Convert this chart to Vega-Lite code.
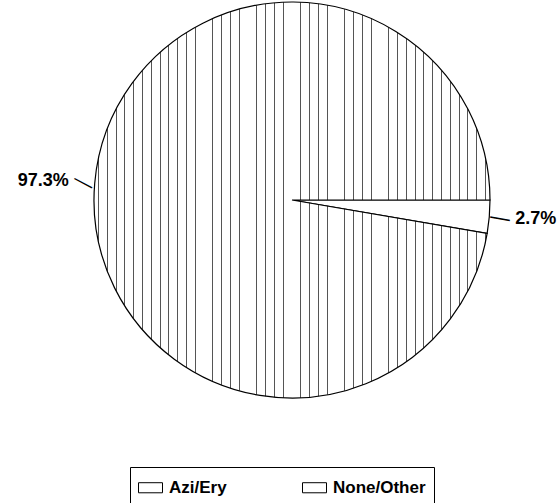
{
  "$schema": "https://vega.github.io/schema/vega-lite/v6.json",
  "width": 536,
  "height": 400,
  "padding": {"left": 24, "top": 0, "right": 0, "bottom": 103},
  "autosize": "none",
  "background": "white",
  "config": {"view": {"stroke": null}},
  "data": {
    "values": [
      {"group": "None/Other", "value": 2.7, "label": "2.7%", "order": 1},
      {"group": "Azi/Ery", "value": 97.3, "label": "97.3%", "order": 2}
    ]
  },
  "encoding": {
    "theta": {"field": "value", "type": "quantitative", "stack": true, "scale": {"range": [1.5708, 7.854]}},
    "order": {"field": "order", "type": "quantitative"}
  },
  "layer": [
    {
      "mark": {"type": "arc", "outerRadius": 198, "strokeWidth": 1.2},
      "encoding": {
        "fill": {
          "condition": {
            "test": "datum.group === 'Azi/Ery'",
            "value": {
              "gradient": "linear", "x1": 0, "y1": 0, "x2": 1, "y2": 0,
              "stops": [
                {"offset": 0, "color": "white"},
                {"offset": 0.00985, "color": "white"}, {"offset": 0.00985, "color": "#555"}, {"offset": 0.01237, "color": "#555"}, {"offset": 0.01237, "color": "white"},
                {"offset": 0.03207, "color": "white"}, {"offset": 0.03207, "color": "#555"}, {"offset": 0.03459, "color": "#555"}, {"offset": 0.03459, "color": "white"},
                {"offset": 0.05430, "color": "white"}, {"offset": 0.05430, "color": "#555"}, {"offset": 0.05682, "color": "#555"}, {"offset": 0.05682, "color": "white"},
                {"offset": 0.07652, "color": "white"}, {"offset": 0.07652, "color": "#555"}, {"offset": 0.07904, "color": "#555"}, {"offset": 0.07904, "color": "white"},
                {"offset": 0.09874, "color": "white"}, {"offset": 0.09874, "color": "#555"}, {"offset": 0.10126, "color": "#555"}, {"offset": 0.10126, "color": "white"},
                {"offset": 0.12096, "color": "white"}, {"offset": 0.12096, "color": "#555"}, {"offset": 0.12348, "color": "#555"}, {"offset": 0.12348, "color": "white"},
                {"offset": 0.14318, "color": "white"}, {"offset": 0.14318, "color": "#555"}, {"offset": 0.14570, "color": "#555"}, {"offset": 0.14570, "color": "white"},
                {"offset": 0.16541, "color": "white"}, {"offset": 0.16541, "color": "#555"}, {"offset": 0.16793, "color": "#555"}, {"offset": 0.16793, "color": "white"},
                {"offset": 0.18763, "color": "white"}, {"offset": 0.18763, "color": "#555"}, {"offset": 0.19015, "color": "#555"}, {"offset": 0.19015, "color": "white"},
                {"offset": 0.20985, "color": "white"}, {"offset": 0.20985, "color": "#555"}, {"offset": 0.21237, "color": "#555"}, {"offset": 0.21237, "color": "white"},
                {"offset": 0.23207, "color": "white"}, {"offset": 0.23207, "color": "#555"}, {"offset": 0.23459, "color": "#555"}, {"offset": 0.23459, "color": "white"},
                {"offset": 0.25430, "color": "white"}, {"offset": 0.25430, "color": "#555"}, {"offset": 0.25682, "color": "#555"}, {"offset": 0.25682, "color": "white"},
                {"offset": 0.27652, "color": "white"}, {"offset": 0.27652, "color": "#555"}, {"offset": 0.27904, "color": "#555"}, {"offset": 0.27904, "color": "white"},
                {"offset": 0.29874, "color": "white"}, {"offset": 0.29874, "color": "#555"}, {"offset": 0.30126, "color": "#555"}, {"offset": 0.30126, "color": "white"},
                {"offset": 0.32096, "color": "white"}, {"offset": 0.32096, "color": "#555"}, {"offset": 0.32348, "color": "#555"}, {"offset": 0.32348, "color": "white"},
                {"offset": 0.34318, "color": "white"}, {"offset": 0.34318, "color": "#555"}, {"offset": 0.34570, "color": "#555"}, {"offset": 0.34570, "color": "white"},
                {"offset": 0.36541, "color": "white"}, {"offset": 0.36541, "color": "#555"}, {"offset": 0.36793, "color": "#555"}, {"offset": 0.36793, "color": "white"},
                {"offset": 0.38763, "color": "white"}, {"offset": 0.38763, "color": "#555"}, {"offset": 0.39015, "color": "#555"}, {"offset": 0.39015, "color": "white"},
                {"offset": 0.40985, "color": "white"}, {"offset": 0.40985, "color": "#555"}, {"offset": 0.41237, "color": "#555"}, {"offset": 0.41237, "color": "white"},
                {"offset": 0.43207, "color": "white"}, {"offset": 0.43207, "color": "#555"}, {"offset": 0.43459, "color": "#555"}, {"offset": 0.43459, "color": "white"},
                {"offset": 0.45430, "color": "white"}, {"offset": 0.45430, "color": "#555"}, {"offset": 0.45682, "color": "#555"}, {"offset": 0.45682, "color": "white"},
                {"offset": 0.47652, "color": "white"}, {"offset": 0.47652, "color": "#555"}, {"offset": 0.47904, "color": "#555"}, {"offset": 0.47904, "color": "white"},
                {"offset": 0.49874, "color": "white"}, {"offset": 0.49874, "color": "#555"}, {"offset": 0.50126, "color": "#555"}, {"offset": 0.50126, "color": "white"},
                {"offset": 0.52096, "color": "white"}, {"offset": 0.52096, "color": "#555"}, {"offset": 0.52348, "color": "#555"}, {"offset": 0.52348, "color": "white"},
                {"offset": 0.54318, "color": "white"}, {"offset": 0.54318, "color": "#555"}, {"offset": 0.54570, "color": "#555"}, {"offset": 0.54570, "color": "white"},
                {"offset": 0.56541, "color": "white"}, {"offset": 0.56541, "color": "#555"}, {"offset": 0.56793, "color": "#555"}, {"offset": 0.56793, "color": "white"},
                {"offset": 0.58763, "color": "white"}, {"offset": 0.58763, "color": "#555"}, {"offset": 0.59015, "color": "#555"}, {"offset": 0.59015, "color": "white"},
                {"offset": 0.60985, "color": "white"}, {"offset": 0.60985, "color": "#555"}, {"offset": 0.61237, "color": "#555"}, {"offset": 0.61237, "color": "white"},
                {"offset": 0.63207, "color": "white"}, {"offset": 0.63207, "color": "#555"}, {"offset": 0.63459, "color": "#555"}, {"offset": 0.63459, "color": "white"},
                {"offset": 0.65430, "color": "white"}, {"offset": 0.65430, "color": "#555"}, {"offset": 0.65682, "color": "#555"}, {"offset": 0.65682, "color": "white"},
                {"offset": 0.67652, "color": "white"}, {"offset": 0.67652, "color": "#555"}, {"offset": 0.67904, "color": "#555"}, {"offset": 0.67904, "color": "white"},
                {"offset": 0.69874, "color": "white"}, {"offset": 0.69874, "color": "#555"}, {"offset": 0.70126, "color": "#555"}, {"offset": 0.70126, "color": "white"},
                {"offset": 0.72096, "color": "white"}, {"offset": 0.72096, "color": "#555"}, {"offset": 0.72348, "color": "#555"}, {"offset": 0.72348, "color": "white"},
                {"offset": 0.74318, "color": "white"}, {"offset": 0.74318, "color": "#555"}, {"offset": 0.74570, "color": "#555"}, {"offset": 0.74570, "color": "white"},
                {"offset": 0.76541, "color": "white"}, {"offset": 0.76541, "color": "#555"}, {"offset": 0.76793, "color": "#555"}, {"offset": 0.76793, "color": "white"},
                {"offset": 0.78763, "color": "white"}, {"offset": 0.78763, "color": "#555"}, {"offset": 0.79015, "color": "#555"}, {"offset": 0.79015, "color": "white"},
                {"offset": 0.80985, "color": "white"}, {"offset": 0.80985, "color": "#555"}, {"offset": 0.81237, "color": "#555"}, {"offset": 0.81237, "color": "white"},
                {"offset": 0.83207, "color": "white"}, {"offset": 0.83207, "color": "#555"}, {"offset": 0.83459, "color": "#555"}, {"offset": 0.83459, "color": "white"},
                {"offset": 0.85430, "color": "white"}, {"offset": 0.85430, "color": "#555"}, {"offset": 0.85682, "color": "#555"}, {"offset": 0.85682, "color": "white"},
                {"offset": 0.87652, "color": "white"}, {"offset": 0.87652, "color": "#555"}, {"offset": 0.87904, "color": "#555"}, {"offset": 0.87904, "color": "white"},
                {"offset": 0.89874, "color": "white"}, {"offset": 0.89874, "color": "#555"}, {"offset": 0.90126, "color": "#555"}, {"offset": 0.90126, "color": "white"},
                {"offset": 0.92096, "color": "white"}, {"offset": 0.92096, "color": "#555"}, {"offset": 0.92348, "color": "#555"}, {"offset": 0.92348, "color": "white"},
                {"offset": 0.94318, "color": "white"}, {"offset": 0.94318, "color": "#555"}, {"offset": 0.94570, "color": "#555"}, {"offset": 0.94570, "color": "white"},
                {"offset": 0.96541, "color": "white"}, {"offset": 0.96541, "color": "#555"}, {"offset": 0.96793, "color": "#555"}, {"offset": 0.96793, "color": "white"},
                {"offset": 0.98763, "color": "white"}, {"offset": 0.98763, "color": "#555"}, {"offset": 0.99015, "color": "#555"}, {"offset": 0.99015, "color": "white"},
                {"offset": 1, "color": "white"}
              ]
            }
          },
          "value": "white"
        },
        "stroke": {
          "field": "group",
          "type": "nominal",
          "scale": {"domain": ["Azi/Ery", "None/Other"], "range": ["black", "black"]},
          "legend": {
            "orient": "none",
            "legendX": 106,
            "legendY": 467,
            "direction": "horizontal",
            "title": null,
            "symbolType": "M-1,-0.42H1V0.42H-1Z",
            "symbolSize": 576,
            "symbolStrokeWidth": 1,
            "symbolStrokeColor": "black",
            "labelFont": "Liberation Sans",
            "labelFontSize": 17,
            "labelFontWeight": "bold",
            "labelColor": "black",
            "labelOffset": 6,
            "strokeColor": "black",
            "padding": 8,
            "columnPadding": 38,
            "gridAlign": "all"
          }
        }
      }
    },
    {
      "mark": {
        "type": "text",
        "radius": 224,
        "fontSize": 18,
        "fontWeight": "bold",
        "font": "Liberation Sans",
        "baseline": "middle",
        "color": "black",
        "align": {"expr": "datum.group === 'Azi/Ery' ? 'right' : 'left'"}
      },
      "encoding": {"text": {"field": "label", "type": "nominal"}}
    },
    {
      "mark": {
        "type": "text",
        "radius": 209,
        "text": "—",
        "fontSize": 20,
        "font": "Liberation Sans",
        "baseline": "middle",
        "align": "center",
        "color": "black"
      },
      "encoding": {
        "angle": {"condition": {"test": "datum.group === 'Azi/Ery'", "value": 28}, "value": 10}
      }
    }
  ]
}
